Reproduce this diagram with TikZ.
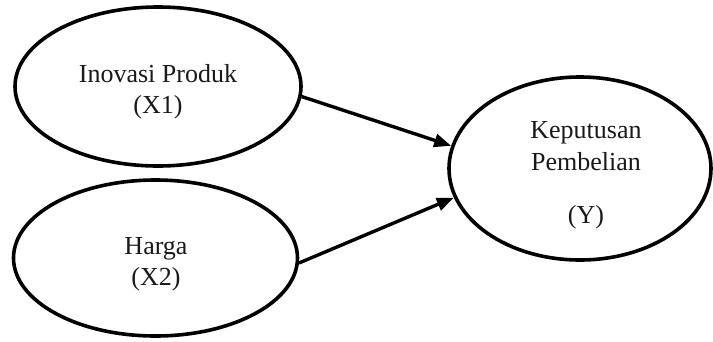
\documentclass[tikz,border=0pt]{standalone}
\usepackage{fontspec}
\setmainfont{Liberation Serif}
\usetikzlibrary{shapes.geometric,arrows.meta}
\begin{document}
\begin{tikzpicture}[x=1pt,y=-1pt,
  oval/.style={draw=black,line width=3.6pt,ellipse,inner sep=0pt},
  lbl/.style={anchor=base,inner sep=0pt,font=\fontsize{26}{30}\selectfont,text=black!90},
  conn/.style={line width=3.4pt,-{Triangle[length=17pt,width=13pt]}}]
\useasboundingbox (0,0) rectangle (713,341);
\node[oval,minimum width=286pt,minimum height=159pt] (x1) at (158,86.5) {};
\node[oval,minimum width=284pt,minimum height=156pt] (x2) at (155.5,258) {};
\node[oval,minimum width=262pt,minimum height=183pt] (y) at (580,168.5) {};
\node[lbl] (t1a) at (158,82) {Inovasi Produk};
\node[lbl] (t1b) at (158,113) {(X1)};
\node[lbl] (t2a) at (156,254) {Harga};
\node[lbl] (t2b) at (156,285) {(X2)};
\node[lbl] (tya) at (586,138) {Keputusan};
\node[lbl] (tyb) at (586,170) {Pembelian};
\node[lbl] (tyc) at (586,223) {(Y)};
\draw[conn] (x1.-4.8) -- (y.170.5);
\draw[conn] (x2.-2) -- (y.193.8);
\end{tikzpicture}
\end{document}
